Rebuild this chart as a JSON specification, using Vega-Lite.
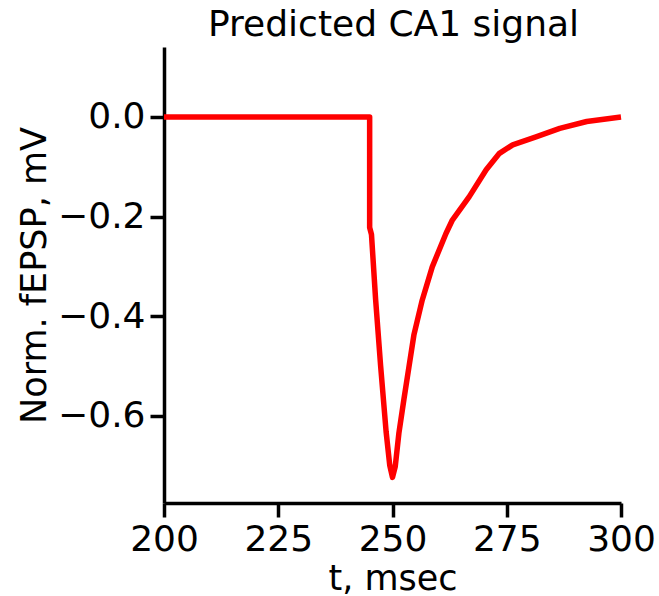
{
  "$schema": "https://vega.github.io/schema/vega-lite/v6.json",
  "width": 457,
  "height": 456,
  "autosize": {"type": "none"},
  "padding": {"left": 164, "top": 47, "right": 38, "bottom": 93},
  "background": "white",
  "title": {"text": "Predicted CA1 signal", "anchor": "start", "frame": "group", "dx": 44, "dy": 31, "offset": 6, "baseline": "alphabetic", "font": "DejaVu Sans", "fontSize": 36, "fontWeight": "normal", "color": "#000000"},
  "data": {"values": [
    {"i": 0, "t": 200, "v": 0},
    {"i": 1, "t": 245, "v": 0},
    {"i": 2, "t": 245, "v": -0.222},
    {"i": 3, "t": 245.4, "v": -0.236},
    {"i": 4, "t": 246.3, "v": -0.366},
    {"i": 5, "t": 247.4, "v": -0.5},
    {"i": 6, "t": 248.6, "v": -0.632},
    {"i": 7, "t": 249.4, "v": -0.7},
    {"i": 8, "t": 250, "v": -0.724},
    {"i": 9, "t": 250.6, "v": -0.702},
    {"i": 10, "t": 251.4, "v": -0.635},
    {"i": 11, "t": 252.5, "v": -0.567},
    {"i": 12, "t": 253.6, "v": -0.502},
    {"i": 13, "t": 254.7, "v": -0.437},
    {"i": 14, "t": 256.5, "v": -0.368},
    {"i": 15, "t": 258.7, "v": -0.301},
    {"i": 16, "t": 261.7, "v": -0.234},
    {"i": 17, "t": 263.1, "v": -0.207},
    {"i": 18, "t": 266.8, "v": -0.16},
    {"i": 19, "t": 270.5, "v": -0.106},
    {"i": 20, "t": 273.4, "v": -0.073},
    {"i": 21, "t": 276.3, "v": -0.056},
    {"i": 22, "t": 281.4, "v": -0.04},
    {"i": 23, "t": 286.6, "v": -0.023},
    {"i": 24, "t": 292.5, "v": -0.009},
    {"i": 25, "t": 300, "v": 0}
  ]},
  "mark": {"type": "line", "color": "#ff0000", "strokeWidth": 5.5, "strokeJoin": "round", "strokeCap": "butt"},
  "encoding": {
    "x": {
      "field": "t", "type": "quantitative",
      "scale": {"domain": [200, 300], "nice": false, "zero": false},
      "axis": {"values": [200, 225, 250, 275, 300], "format": "d", "title": "t, msec", "titleY": 86, "titleBaseline": "alphabetic", "labelFlush": false, "labelOverlap": false}
    },
    "y": {
      "field": "v", "type": "quantitative",
      "scale": {"domain": [-0.7754, 0.1406], "nice": false, "zero": false},
      "axis": {"values": [0, -0.2, -0.4, -0.6], "format": ".1f", "title": "Norm. fEPSP, mV", "titleX": -119, "titleY": 228, "titleAngle": -90, "titleAlign": "center", "titleBaseline": "alphabetic", "labelOverlap": false}
    },
    "order": {"field": "i", "type": "quantitative"}
  },
  "config": {
    "view": {"stroke": null},
    "axis": {
      "grid": false,
      "domainColor": "#000000", "domainWidth": 3.5,
      "tickColor": "#000000", "tickWidth": 3.5, "tickSize": 14,
      "labelFont": "DejaVu Sans", "labelFontSize": 36, "labelColor": "#000000", "labelPadding": 5,
      "titleFont": "DejaVu Sans", "titleFontSize": 35, "titleFontWeight": "normal", "titleColor": "#000000"
    }
  }
}
